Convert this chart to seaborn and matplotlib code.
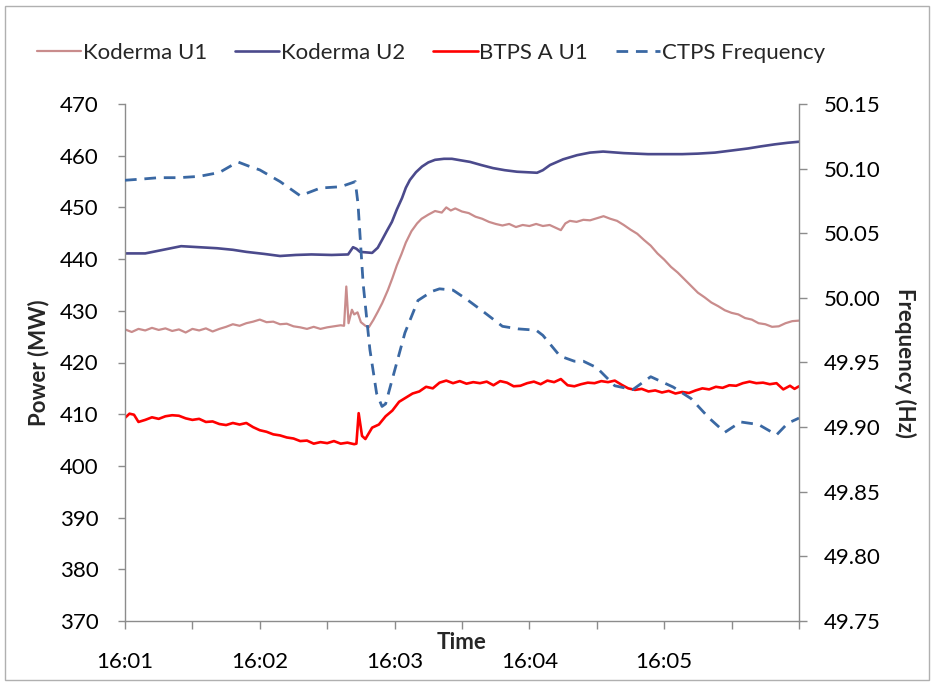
import matplotlib
matplotlib.use("Agg")
import matplotlib.pyplot as plt
from matplotlib.patches import Rectangle
import seaborn as sns
import pandas as pd

# ---- data (time in seconds after 16:01:00) ----
u1_t = [0, 3, 6, 9, 12, 15, 18, 21, 24, 27, 30, 33, 36, 39, 42, 45, 48, 51, 54, 57,
        60, 63, 66, 69, 72, 75, 78, 81, 84, 87, 90, 93, 96, 97.5, 98.5, 99.5, 101, 102,
        103.5, 105, 107, 108.5, 110.5, 112.5, 114.5, 117, 119, 121, 123, 125, 127.5, 130,
        132, 135, 138, 141, 143, 145, 147, 150, 153, 156, 159, 162, 165, 168, 171, 174,
        177, 180, 183, 186, 189, 192, 194, 196, 198, 201, 204, 207, 210, 213, 216, 219,
        222, 225, 228, 231, 234, 237, 240, 243, 246, 249, 252, 255, 258, 261, 264, 267,
        270, 273, 276, 279, 282, 285, 288, 291, 294, 297, 300]
koderma_u1 = [426.4, 425.9, 426.5, 426.2, 426.7, 426.3, 426.6, 426.1, 426.4, 425.8,
              426.5, 426.2, 426.6, 426.0, 426.5, 426.9, 427.4, 427.1, 427.6, 427.9,
              428.3, 427.8, 427.9, 427.4, 427.5, 427.0, 426.8, 426.5, 426.9, 426.5,
              426.8, 427.0, 427.2, 427.1, 434.7, 427.6, 430.2, 429.3, 429.7, 427.8,
              427.1, 426.8, 428.2, 429.8, 431.5, 434.0, 436.3, 438.8, 440.9, 443.2,
              445.4, 446.9, 447.8, 448.6, 449.3, 449.0, 450.0, 449.4, 449.8, 449.2,
              448.9, 448.2, 447.8, 447.2, 446.8, 446.5, 446.8, 446.2, 446.6, 446.4,
              446.8, 446.4, 446.6, 446.0, 445.6, 446.9, 447.4, 447.2, 447.6, 447.5,
              447.9, 448.3, 447.8, 447.4, 446.6, 445.7, 444.9, 443.7, 442.6, 441.1,
              439.9, 438.5, 437.4, 436.1, 434.8, 433.5, 432.6, 431.6, 430.9, 430.1,
              429.6, 429.3, 428.6, 428.3, 427.6, 427.4, 426.9, 427.0, 427.6, 428.0,
              428.1]

u2_t = [0, 9, 17, 25, 33, 41, 48, 54, 62, 69, 76, 83, 92, 99.3, 101.5, 103, 104.6, 110,
        112.5, 114.4, 116.5, 118.8, 121, 123.3, 125, 126.8, 129.5, 132.2, 135, 138, 142,
        145.5, 149.5, 153.6, 158.5, 163.8, 169, 174.5, 179, 183.4, 186, 189.2, 195, 201.2,
        207, 212.8, 222, 232.8, 240, 248, 255, 262.6, 270, 277.3, 283, 289.3, 295, 300]
koderma_u2 = [441.1, 441.1, 441.8, 442.5, 442.3, 442.1, 441.8, 441.4, 441.0, 440.6,
              440.8, 440.9, 440.8, 440.9, 442.3, 442.0, 441.4, 441.2, 442.2, 443.7,
              445.4, 447.2, 449.6, 451.8, 453.8, 455.3, 456.8, 457.9, 458.7, 459.2,
              459.4, 459.4, 459.1, 458.8, 458.2, 457.6, 457.2, 456.9, 456.8, 456.7,
              457.2, 458.2, 459.3, 460.1, 460.6, 460.8, 460.5, 460.3, 460.3, 460.3,
              460.4, 460.6, 461.0, 461.4, 461.8, 462.2, 462.5, 462.7]

btps_t = [0, 2, 4, 6, 9, 12, 15, 18, 21, 24, 27, 30, 33, 36, 39, 42, 45, 48, 51, 54,
          57, 60, 63, 66, 69, 72, 75, 78, 81, 84, 87, 90, 93, 96, 99, 102, 103, 104,
          105.5, 107, 110, 113, 116, 119, 122, 125, 128, 131, 134, 137, 140, 143, 146,
          149, 152, 155, 158, 161, 164, 167, 170, 173, 176, 179, 182, 185, 188, 191,
          194, 197, 200, 203, 206, 209, 212, 215, 218, 221, 224, 227, 230, 233, 236,
          239, 242, 245, 248, 251, 254, 257, 260, 263, 266, 269, 272, 275, 278, 281,
          284, 287, 290, 293, 296, 298, 300]
btps_a_u1 = [409.3, 410.1, 409.9, 408.5, 408.9, 409.4, 409.1, 409.6, 409.8, 409.7,
             409.2, 408.9, 409.1, 408.5, 408.6, 408.1, 407.9, 408.3, 408.0, 408.3,
             407.5, 406.9, 406.6, 406.1, 405.9, 405.5, 405.3, 404.8, 404.9, 404.3,
             404.6, 404.4, 404.8, 404.3, 404.5, 404.2, 404.3, 410.2, 405.8, 405.2,
             407.4, 408.0, 409.6, 410.7, 412.4, 413.2, 414.0, 414.4, 415.3, 415.0,
             416.1, 416.5, 416.0, 416.4, 415.9, 416.2, 416.0, 416.3, 415.6, 416.4,
             416.1, 415.4, 415.5, 416.0, 416.3, 415.8, 416.5, 416.2, 416.8, 415.6,
             415.4, 415.8, 416.1, 416.0, 416.4, 416.2, 416.5, 415.7, 415.0, 414.7,
             414.9, 414.4, 414.6, 414.2, 414.5, 414.0, 414.3, 414.1, 414.6, 415.0,
             414.8, 415.3, 415.1, 415.6, 415.5, 416.0, 416.3, 416.0, 416.1, 415.8,
             416.0, 414.8, 415.5, 414.9, 415.4]

freq_t = [0, 8, 15, 24, 33, 42, 49, 50.5, 55, 60, 69, 78, 87, 96, 101, 102.5, 103.7,
          106, 109, 112, 114.4, 116, 118.8, 124.6, 130.4, 136.6, 140, 146, 152, 159,
          168, 175, 183, 186, 193.6, 200, 204, 210, 218, 226, 234, 244, 252, 260, 267,
          274, 282, 290, 295, 300]
ctps_freq = [50.091, 50.092, 50.093, 50.093, 50.094, 50.097, 50.104, 50.105, 50.102,
             50.099, 50.090, 50.079, 50.085, 50.086, 50.089, 50.090, 50.073, 50.011,
             49.960, 49.926, 49.916, 49.918, 49.936, 49.973, 49.998, 50.005, 50.007,
             50.006, 49.999, 49.990, 49.978, 49.976, 49.975, 49.971, 49.955, 49.951,
             49.951, 49.946, 49.932, 49.929, 49.939, 49.931, 49.922, 49.907, 49.896,
             49.904, 49.902, 49.894, 49.903, 49.907]

tick_seconds = [0, 30, 60, 90, 120, 150, 180, 210, 240, 270, 300]
tick_labels = ["16:01", "", "16:02", "", "16:03", "", "16:04", "", "16:05", "", ""]
power_ticks = [370, 380, 390, 400, 410, 420, 430, 440, 450, 460, 470]
freq_ticks = [49.75, 49.80, 49.85, 49.90, 49.95, 50.00, 50.05, 50.10, 50.15]

sns.set_theme(style="white")
plt.rcParams["font.family"] = ["Lato", "DejaVu Sans"]
FS = 16

fig = plt.figure(figsize=(9.31, 6.83), dpi=100)
ax = fig.add_axes([125 / 931, 1 - 621 / 683, 674 / 931, 517 / 683])
ax2 = ax.twinx()

df_u1 = pd.DataFrame({"t": u1_t, "v": koderma_u1})
df_u2 = pd.DataFrame({"t": u2_t, "v": koderma_u2})
df_bt = pd.DataFrame({"t": btps_t, "v": btps_a_u1})
df_f = pd.DataFrame({"t": freq_t, "v": ctps_freq})

sns.lineplot(data=df_u1, x="t", y="v", ax=ax, color="#C98C8C", lw=1.6, label="Koderma U1")
sns.lineplot(data=df_u2, x="t", y="v", ax=ax, color="#4B4A8C", lw=1.9, label="Koderma U2")
sns.lineplot(data=df_bt, x="t", y="v", ax=ax, color="#FF0000", lw=1.9, label="BTPS A U1")
sns.lineplot(data=df_f, x="t", y="v", ax=ax2, color="#3A68A3", lw=2.0,
             linestyle=(0, (4.2, 2.8)), label="CTPS Frequency")

ax.set_xlim(0, 300)
ax.set_ylim(370, 470)
ax2.set_ylim(49.75, 50.15)

ax.set_xticks(tick_seconds)
ax.set_xticklabels(tick_labels)
ax.set_yticks(power_ticks)
ax2.set_yticks(freq_ticks)
ax2.set_yticklabels([f"{v:.2f}" for v in freq_ticks])

axis_col = "#8C8C8C"
for a in (ax, ax2):
    a.spines["top"].set_visible(False)
    for side in ("left", "right", "bottom"):
        a.spines[side].set_color(axis_col)
        a.spines[side].set_linewidth(1.0)
    a.grid(False)
ax.spines["right"].set_visible(False)
ax2.spines["left"].set_visible(False)
ax2.spines["bottom"].set_visible(False)

ax.tick_params(axis="x", direction="out", length=6, width=1, color=axis_col,
               pad=16, labelsize=FS, labelcolor="black", bottom=True)
ax.tick_params(axis="y", direction="out", length=5, width=1, color=axis_col,
               pad=14, labelsize=FS, labelcolor="black", left=True)
ax2.tick_params(axis="y", direction="out", length=6, width=1, color=axis_col,
                pad=12, labelsize=FS, labelcolor="black", right=True)

ax.set_xlabel("Time", fontsize=FS, fontweight="bold")
ax.xaxis.set_label_coords(0.5, -0.022)
ax.set_ylabel("Power (MW)", fontsize=FS, fontweight="bold")
ax.yaxis.set_label_coords(-0.112, 0.5)
ax2.set_ylabel("Frequency (Hz)", fontsize=FS, fontweight="bold", rotation=270,
               va="center")
ax2.yaxis.set_label_coords(1.157, 0.5)

h1, l1 = ax.get_legend_handles_labels()
h2, l2 = ax2.get_legend_handles_labels()
ax.get_legend().remove()
ax2.get_legend().remove()
fig.legend(h1 + h2, l1 + l2, loc="center", ncol=4, frameon=False,
           bbox_to_anchor=(431 / 931, 1 - 53 / 683), fontsize=FS,
           handlelength=2.0, handletextpad=0.08, columnspacing=1.25)

fig.patches.append(Rectangle((5 / 931, 3 / 683), 924 / 931, 674 / 683,
                             transform=fig.transFigure, fill=False,
                             edgecolor="#B0B0B0", lw=1.0))

fig.savefig("out.png", dpi=100, facecolor="white")
